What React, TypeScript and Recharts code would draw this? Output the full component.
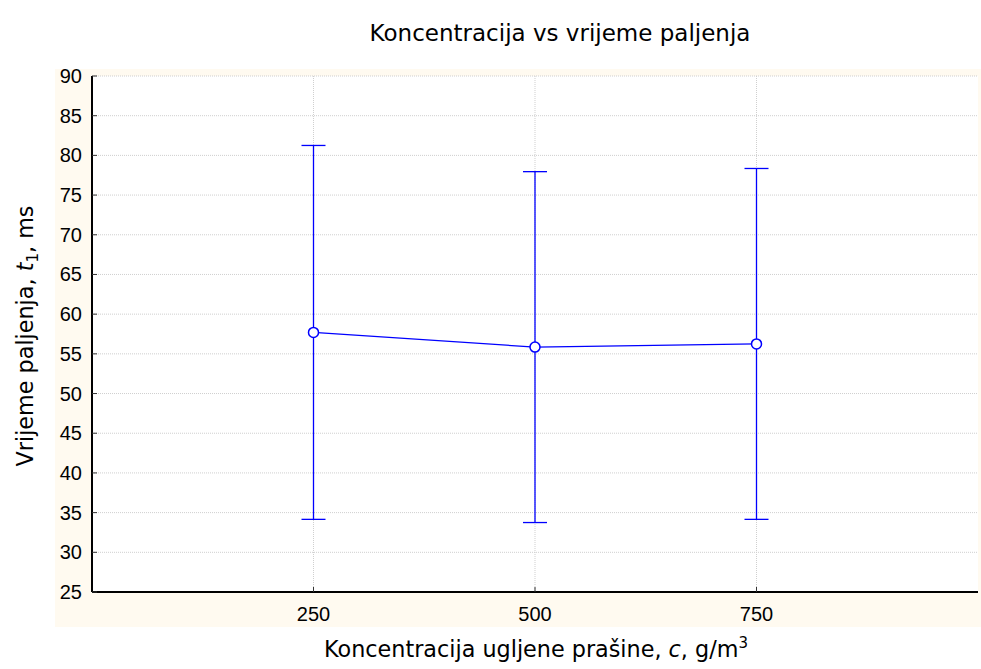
import React from 'react'
import {
  LineChart, Line, XAxis, YAxis, CartesianGrid, ErrorBar,
} from 'recharts'

const concentrations = [250, 500, 750]
const means = [57.7, 55.85, 56.25]
const upper = [81.25, 77.95, 78.35]
const lower = [34.15, 33.75, 34.15]

const xTicks = [250, 500, 750]
const yTicks = [25, 30, 35, 40, 45, 50, 55, 60, 65, 70, 75, 80, 85, 90]

const data = concentrations.map((c, i) => ({
  c,
  mean: means[i],
  err: [means[i] - lower[i], upper[i] - means[i]],
}))

const BLUE = '#0000ff'
const FONT = '"DejaVu Sans", Tahoma, sans-serif'
const TICK_FONT = '"Liberation Sans", Arial, sans-serif'

// tick labels drawn by hand so the font size sticks
function XTick(props: any) {
  const { x, y, payload } = props
  return (
    <text x={x} y={y} dy={14} textAnchor="middle" fontSize={20} fontFamily={TICK_FONT} fill="#000">
      {payload.value}
    </text>
  )
}

function YTick(props: any) {
  const { x, y, payload } = props
  return (
    <text x={x} y={y} dy={7} textAnchor="end" fontSize={20} fontFamily={TICK_FONT} fill="#000">
      {payload.value}
    </text>
  )
}

export default function App() {
  return (
    <div style={{ position: 'absolute', left: 0, top: 0, width: 981, height: 669, background: '#fff', fontFamily: FONT }}>
      <div style={{ position: 'absolute', left: 55, top: 69, width: 926, height: 558, background: '#fffaf0' }} />
      <div style={{ position: 'absolute', left: 0, top: 0 }}>
        <LineChart width={981} height={669} data={data} margin={{ top: 76, right: 3, left: 0, bottom: 0 }}>
          <CartesianGrid
            fill="#fff"
            stroke="#cfcfcf"
            strokeDasharray="1 1"
            horizontalValues={yTicks}
            verticalValues={xTicks}
          />
          <XAxis
            type="number"
            dataKey="c"
            domain={[0, 1000]}
            ticks={xTicks}
            height={77}
            tickSize={-5}
            tickMargin={20}
            tick={<XTick />}
            axisLine={{ stroke: '#000', strokeWidth: 2 }}
            tickLine={{ stroke: '#333' }}
          />
          <XAxis
            xAxisId="top"
            orientation="top"
            type="number"
            domain={[0, 1000]}
            height={0}
            tick={false}
            tickLine={false}
            axisLine={{ stroke: '#000', strokeWidth: 1.5 }}
          />
          <YAxis
            domain={[25, 90]}
            ticks={yTicks}
            width={92}
            tickSize={-5}
            tickMargin={15}
            tick={<YTick />}
            axisLine={{ stroke: '#000', strokeWidth: 2 }}
            tickLine={{ stroke: '#333' }}
          />
          <YAxis
            yAxisId="right"
            orientation="right"
            domain={[25, 90]}
            ticks={yTicks}
            width={0}
            tickSize={-5}
            tick={false}
            axisLine={{ stroke: '#000', strokeWidth: 2 }}
            tickLine={{ stroke: '#333', strokeWidth: 1.5 }}
          />
          <Line
            type="linear"
            dataKey="mean"
            stroke={BLUE}
            strokeWidth={1.3}
            dot={{ r: 5, fill: '#fff', stroke: BLUE, strokeWidth: 1.5 }}
            activeDot={false}
            isAnimationActive={false}
          >
            <ErrorBar dataKey="err" width={12} stroke={BLUE} strokeWidth={1.3} direction="y" />
          </Line>
        </LineChart>
      </div>
      <div style={{ position: 'absolute', left: 560, top: 33, transform: 'translate(-50%, -50%)', fontSize: 23, whiteSpace: 'nowrap' }}>
        Koncentracija vs vrijeme paljenja
      </div>
      <div style={{ position: 'absolute', left: 536, top: 648, transform: 'translate(-50%, -50%)', fontSize: 22.3, whiteSpace: 'nowrap' }}>
        Koncentracija ugljene prašine, <i>c</i>, g/m<sup style={{ fontSize: 15 }}>3</sup>
      </div>
      <div style={{ position: 'absolute', left: 27, top: 336, transform: 'translate(-50%, -50%) rotate(-90deg)', fontSize: 22.3, whiteSpace: 'nowrap' }}>
        Vrijeme paljenja, <i>t</i><sub style={{ fontSize: 15 }}>1</sub>, ms
      </div>
    </div>
  )
}
